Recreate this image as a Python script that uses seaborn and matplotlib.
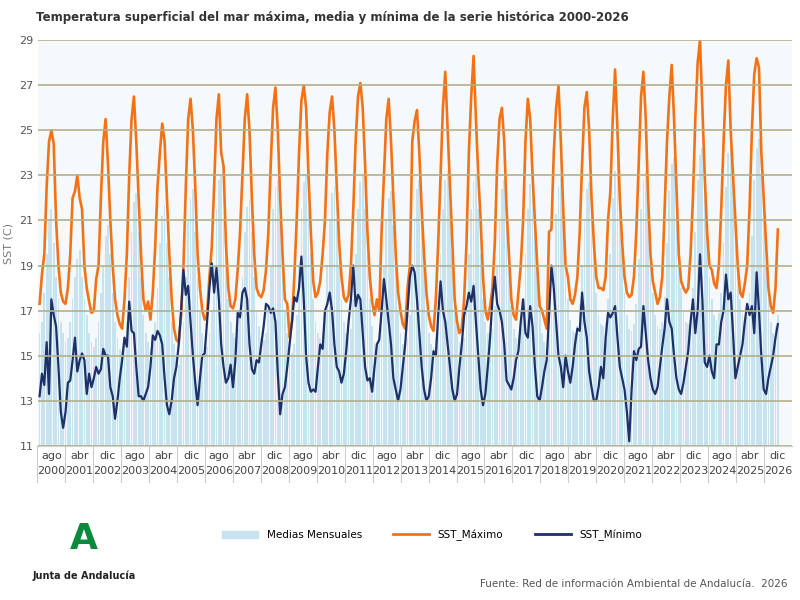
import numpy as np
import pandas as pd
import matplotlib.pyplot as plt
import matplotlib.transforms as mtransforms
from matplotlib.patches import Patch
from matplotlib.lines import Line2D
import seaborn as sns

# datos mensuales, marzo 2000 - abril 2026
sst_max = [
    17.3, 18.6, 19.5, 22.5, 24.5, 25.0, 24.4, 21.0, 19.0, 17.8,
    17.4, 17.3, 18.0, 19.5, 22.0, 22.3, 23.0, 22.0, 21.5, 19.0, 18.0, 17.4,
    16.9, 17.0, 18.4, 19.0, 22.0, 24.5, 25.5, 23.5, 21.0, 19.0, 17.5, 16.8,
    16.4, 16.2, 17.5, 19.5, 23.0, 25.5, 26.5, 24.5, 22.0, 19.5, 17.5, 17.0,
    17.4, 16.6, 17.8, 19.8, 22.5, 24.0, 25.3, 24.5, 22.0, 19.5, 17.5, 16.2,
    15.7, 15.6, 16.8, 19.0, 22.5, 25.5, 26.4, 25.0, 22.5, 19.5, 18.0, 17.0,
    16.6, 16.8, 18.5, 19.8, 22.5, 25.5, 26.6, 24.0, 23.4, 20.0, 18.0, 17.2,
    17.1, 17.5, 18.8, 20.5, 23.0, 25.5, 26.6, 25.0, 22.0, 19.5, 18.0, 17.7,
    17.6, 17.9, 18.8, 20.5, 23.5, 26.0, 26.9, 25.0, 22.0, 19.5, 17.5, 17.3,
    15.8, 16.5, 18.5, 21.0, 24.0, 26.3, 27.0, 26.0, 23.0, 20.5, 18.3, 17.6,
    17.8, 18.3, 19.5, 21.0, 24.0, 25.8, 26.5, 25.0, 22.5, 20.0, 18.5, 17.6,
    17.4, 17.7, 19.0, 21.5, 24.5, 26.5, 27.1, 26.0, 23.5, 20.5, 18.5, 17.4,
    16.8, 17.5, 17.0, 20.5, 23.0, 25.5, 26.4, 24.5, 22.0, 19.5, 17.8, 17.0,
    16.4, 16.2, 18.0, 19.0, 24.5, 25.4, 25.9, 24.0, 21.5, 19.5, 17.8, 16.8,
    16.3, 16.1, 17.5, 20.0, 23.0, 26.0, 27.6, 25.0, 22.5, 20.0, 17.5, 16.5,
    16.0, 16.2, 17.5, 20.0, 24.0, 26.5, 28.3, 25.5, 23.0, 21.0, 18.5, 17.0,
    16.6, 17.2, 18.0, 20.0, 23.5, 25.5, 26.0, 24.5, 21.5, 19.5, 17.5, 16.8,
    16.6, 17.8, 19.0, 21.0, 24.5, 26.4, 25.5, 23.0, 21.0, 19.0, 17.2, 17.0,
    16.6, 16.2, 20.5, 20.6, 24.0, 26.0, 27.0, 24.5, 21.5, 19.0, 18.5, 17.5,
    17.3, 17.7, 18.5, 20.5, 23.5, 26.0, 26.7, 25.0, 22.0, 20.0, 18.5, 18.0,
    18.0, 17.9, 18.5, 21.0, 22.3, 25.5, 27.7, 25.0, 22.0, 20.0, 18.5, 17.8,
    17.6, 17.7, 18.5, 20.5, 23.5, 26.5, 27.6, 25.5, 22.0, 19.5, 18.3, 17.8,
    17.3, 17.6, 18.5, 21.5, 24.5, 26.5, 27.9, 25.5, 22.5, 19.5, 18.3, 18.0,
    17.8, 18.0, 19.5, 22.0, 25.5, 28.0, 29.0, 26.0, 23.0, 20.5, 19.0, 18.8,
    18.2, 18.0, 19.0, 21.5, 24.5, 27.0, 28.1, 25.0, 23.0, 21.0, 19.0, 17.8,
    17.6, 18.2, 19.0, 21.5, 25.0, 27.5, 28.2, 27.8, 24.0, 22.0, 20.0, 18.0,
    17.2, 16.9, 18.0, 20.6,
]

sst_min = [
    13.2, 14.2, 13.7, 15.6, 13.3, 17.5, 16.8, 16.3, 14.5, 12.5,
    11.8, 12.5, 13.8, 13.9, 14.8, 15.8, 14.3, 14.8, 15.1, 14.8, 13.3, 14.2,
    13.6, 14.0, 14.5, 14.2, 14.4, 15.3, 15.0, 15.0, 13.6, 13.2, 12.2, 13.0,
    14.0, 14.8, 15.8, 15.4, 17.4, 16.1, 16.0, 14.5, 13.2, 13.2, 13.0, 13.3,
    13.6, 14.5, 15.9, 15.7, 16.1, 15.9, 15.5, 14.0, 12.8, 12.4, 13.0, 14.0,
    14.5, 15.5, 17.0, 18.8, 17.7, 18.1, 16.5, 15.0, 13.8, 12.8, 14.0, 15.0,
    15.1, 16.5, 18.0, 19.1, 17.8, 18.9, 17.5, 15.5, 14.5, 13.8, 14.0, 14.6,
    13.6, 14.8, 16.9, 16.7, 17.8, 18.0, 17.5, 15.5, 14.4, 14.2, 14.8, 14.7,
    15.5, 16.3, 17.3, 17.2, 16.9, 17.1, 16.5, 14.2, 12.4, 13.3, 13.6, 14.5,
    15.5, 16.5, 17.6, 17.4, 18.0, 19.4, 17.5, 15.0, 13.8, 13.4, 13.5, 13.4,
    14.5, 15.5, 15.3, 17.0, 17.3, 17.8, 17.0, 15.5, 14.5, 14.3, 13.8, 14.2,
    15.2, 16.5, 17.5, 19.0, 17.2, 17.7, 17.5, 16.0, 14.5, 13.9, 14.0, 13.4,
    14.5, 15.5, 15.7, 17.0, 18.4, 17.5, 16.5, 15.5, 14.0, 13.5, 13.0, 13.5,
    14.5, 15.5, 17.0, 18.5, 19.0, 18.7, 17.5, 16.0, 14.5, 13.5, 13.0, 13.2,
    14.0, 15.2, 15.0, 16.8, 18.3, 17.0, 16.5, 15.5, 14.5, 13.5, 13.0, 13.3,
    14.5, 15.5, 16.8, 17.2, 17.8, 17.4, 18.1, 16.5, 15.0, 13.5, 12.8, 13.3,
    14.5, 15.8, 17.5, 18.5, 17.3, 17.0, 16.5, 15.5, 13.9, 13.7, 13.5, 14.0,
    14.8, 15.2, 16.5, 17.5, 16.0, 15.8, 17.2, 16.3, 14.5, 13.2, 13.0, 13.6,
    14.3, 14.8, 16.8, 19.0, 18.0, 16.5, 15.0, 14.5, 13.6, 15.0, 14.3, 13.8,
    14.5, 15.5, 16.2, 16.1, 17.8, 16.5, 15.8, 14.3, 13.6, 13.0, 13.0, 13.6,
    14.5, 14.0, 15.8, 16.9, 16.7, 16.9, 17.2, 15.8, 14.5, 14.0, 13.5, 12.5,
    11.2, 13.5, 15.2, 14.8, 15.3, 15.4, 17.2, 16.0, 14.8, 14.0, 13.5, 13.3,
    13.6, 14.5, 15.4, 16.2, 17.5, 16.5, 16.2, 15.0, 14.0, 13.5, 13.3, 13.8,
    14.5, 15.2, 16.5, 17.5, 16.0, 17.0, 19.5, 17.5, 14.7, 14.5, 15.0, 14.3,
    14.0, 15.5, 15.5, 16.5, 17.0, 18.6, 17.5, 17.8, 16.0, 14.0, 14.5, 15.0,
    15.5, 16.5, 17.3, 16.8, 17.2, 16.0, 18.7, 17.0, 15.0, 13.5, 13.3, 14.0,
    14.5, 15.0, 15.8, 16.4,
]

medias = [
    16.0, 16.5, 17.8, 19.5, 21.0, 21.5, 20.0, 18.5, 17.5, 16.5,
    16.0, 15.6, 15.8, 16.5, 17.5, 18.5, 19.3, 19.7, 18.5, 17.5, 16.8, 16.0,
    15.6, 15.4, 15.8, 16.5, 17.8, 19.0, 20.3, 20.8, 19.5, 17.8, 16.5, 15.8,
    15.3, 15.2, 15.6, 16.5, 18.5, 20.5, 21.8, 22.2, 20.5, 18.5, 16.8, 16.0,
    15.6, 15.3, 15.6, 16.5, 18.0, 20.0, 21.2, 21.7, 20.0, 18.5, 16.5, 15.5,
    15.0, 14.6, 15.0, 16.5, 18.5, 21.0, 22.0, 22.4, 20.5, 18.5, 17.0, 16.0,
    15.5, 15.4, 16.0, 17.0, 19.0, 21.5, 22.8, 23.0, 21.0, 19.5, 17.5, 16.5,
    16.0, 15.8, 16.2, 17.0, 18.5, 20.5, 21.6, 21.9, 20.5, 18.5, 17.0, 16.3,
    15.8, 15.7, 16.0, 17.0, 19.0, 21.5, 22.5, 22.8, 21.0, 19.0, 17.0, 16.0,
    15.3, 15.1, 15.5, 16.8, 19.0, 21.5, 22.7, 23.0, 21.5, 19.5, 17.5, 16.5,
    16.0, 15.8, 16.0, 17.0, 19.0, 21.0, 22.2, 22.5, 21.0, 19.0, 17.5, 16.5,
    16.0, 15.8, 16.2, 17.5, 19.5, 21.5, 22.7, 23.0, 21.5, 19.5, 17.5, 16.3,
    15.6, 15.4, 15.8, 17.0, 19.0, 21.0, 22.0, 22.3, 20.8, 19.0, 17.0, 16.0,
    15.5, 15.3, 15.8, 16.8, 19.0, 21.0, 22.4, 22.8, 21.0, 19.0, 17.0, 16.0,
    15.5, 15.4, 15.8, 17.0, 19.5, 21.5, 22.8, 23.2, 21.5, 19.5, 17.5, 16.3,
    15.6, 15.4, 15.8, 17.0, 19.5, 21.5, 22.7, 23.0, 21.5, 19.5, 17.5, 16.5,
    16.0, 15.9, 16.2, 17.2, 19.0, 21.0, 22.4, 22.8, 21.0, 19.0, 17.2, 16.2,
    15.8, 15.8, 16.2, 17.3, 19.5, 21.5, 22.6, 22.9, 21.0, 19.0, 17.0, 16.0,
    15.6, 15.4, 15.9, 17.0, 19.0, 21.3, 22.5, 22.9, 21.2, 19.3, 17.5, 16.6,
    16.1, 16.0, 16.3, 17.3, 19.0, 21.0, 22.4, 22.7, 21.2, 19.5, 17.8, 16.8,
    16.4, 16.3, 16.5, 17.5, 19.5, 22.0, 23.2, 23.6, 21.8, 19.8, 17.8, 16.8,
    16.2, 16.1, 16.4, 17.3, 19.3, 21.5, 22.8, 23.2, 21.5, 19.5, 17.8, 16.8,
    16.3, 16.2, 16.5, 17.6, 20.0, 22.3, 23.5, 23.8, 22.0, 20.0, 18.0, 17.0,
    16.5, 16.4, 16.8, 18.0, 20.5, 22.8, 23.9, 24.2, 22.5, 20.5, 18.5, 17.5,
    16.8, 16.6, 16.9, 17.8, 20.0, 22.5, 24.0, 24.5, 22.8, 20.8, 18.6, 17.5,
    16.8, 16.5, 16.7, 17.8, 20.3, 22.8, 24.2, 24.6, 23.0, 21.0, 19.0, 17.5,
    16.5, 16.0, 16.3, 16.8,
]

years = list(range(2000, 2027))
month_labels = ["ago", "abr", "dic"]

df = pd.DataFrame({"idx": np.arange(len(medias)), "medias": medias,
                   "max": sst_max, "min": sst_min})

fig = plt.figure(figsize=(8, 6), dpi=100)
ax = fig.add_axes([0.048, 0.257, 0.942, 0.676])
ax.set_facecolor("#f5f9fc")

sns.barplot(data=df, x="idx", y="medias", native_scale=True, color="#c6e3ef",
            width=0.75, linewidth=0, ax=ax, saturation=1)
sns.lineplot(data=df, x="idx", y="max", color="#f47216", lw=1.9, ax=ax)
sns.lineplot(data=df, x="idx", y="min", color="#1d3168", lw=1.6, ax=ax)

ax.set_ylim(11, 29)
ax.set_xlim(-0.5, len(medias) + 5)
ax.set_yticks(range(11, 30, 2))
ax.grid(axis="y", color="#b5b08a", lw=1.2)
ax.set_axisbelow(False)
for l in ax.get_ygridlines():
    l.set_zorder(0.5)
for s in ax.spines.values():
    s.set_visible(False)
ax.tick_params(axis="y", length=0, labelsize=8, labelcolor="#555555")
ax.set_ylabel("SST (C)", fontsize=8, color="#777777")
ax.set_xlabel("")
ax.set_xticks([])

# etiquetas de eje en dos niveles
pos = np.linspace(5, len(medias) - 1, len(years))
step = pos[1] - pos[0]
trans = mtransforms.blended_transform_factory(ax.transData, ax.transAxes)
for i, (p, y) in enumerate(zip(pos, years)):
    ax.text(p, -0.012, month_labels[i % 3], transform=trans, ha="center",
            va="top", fontsize=8, color="#444444")
    ax.text(p, -0.05, str(y), transform=trans, ha="center", va="top",
            fontsize=8, color="#444444")
    ax.plot([p - step / 2] * 2, [0, -0.09], transform=trans, color="#cccccc",
            lw=0.8, clip_on=False)
ax.plot([pos[0] - step / 2, pos[-1] + step / 2], [0, 0], transform=trans,
        color="#cccccc", lw=0.8, clip_on=False)

fig.text(0.045, 0.965, "Temperatura superficial del mar máxima, media y mínima de la serie histórica 2000-2026",
         fontsize=8.5, color="#333333", fontweight="semibold")

handles = [Patch(color="#c6e3ef", label="Medias Mensuales"),
           Line2D([], [], color="#f47216", lw=2, label="SST_Máximo"),
           Line2D([], [], color="#1d3168", lw=2, label="SST_Mínimo")]
fig.legend(handles=handles, loc="center", bbox_to_anchor=(0.54, 0.108), ncol=3,
           frameon=False, fontsize=7.5, handlelength=3.5, columnspacing=3)

fig.text(0.105, 0.085, "A", fontsize=26, color="#0a8a3c", fontweight="bold", ha="center")
fig.text(0.105, 0.035, "Junta de Andalucía", fontsize=7, color="#222222",
         fontweight="bold", ha="center")
fig.text(0.985, 0.022, "Fuente: Red de información Ambiental de Andalucía.  2026",
         fontsize=7.5, color="#555555", ha="right")

fig.savefig("out.png", dpi=100)
